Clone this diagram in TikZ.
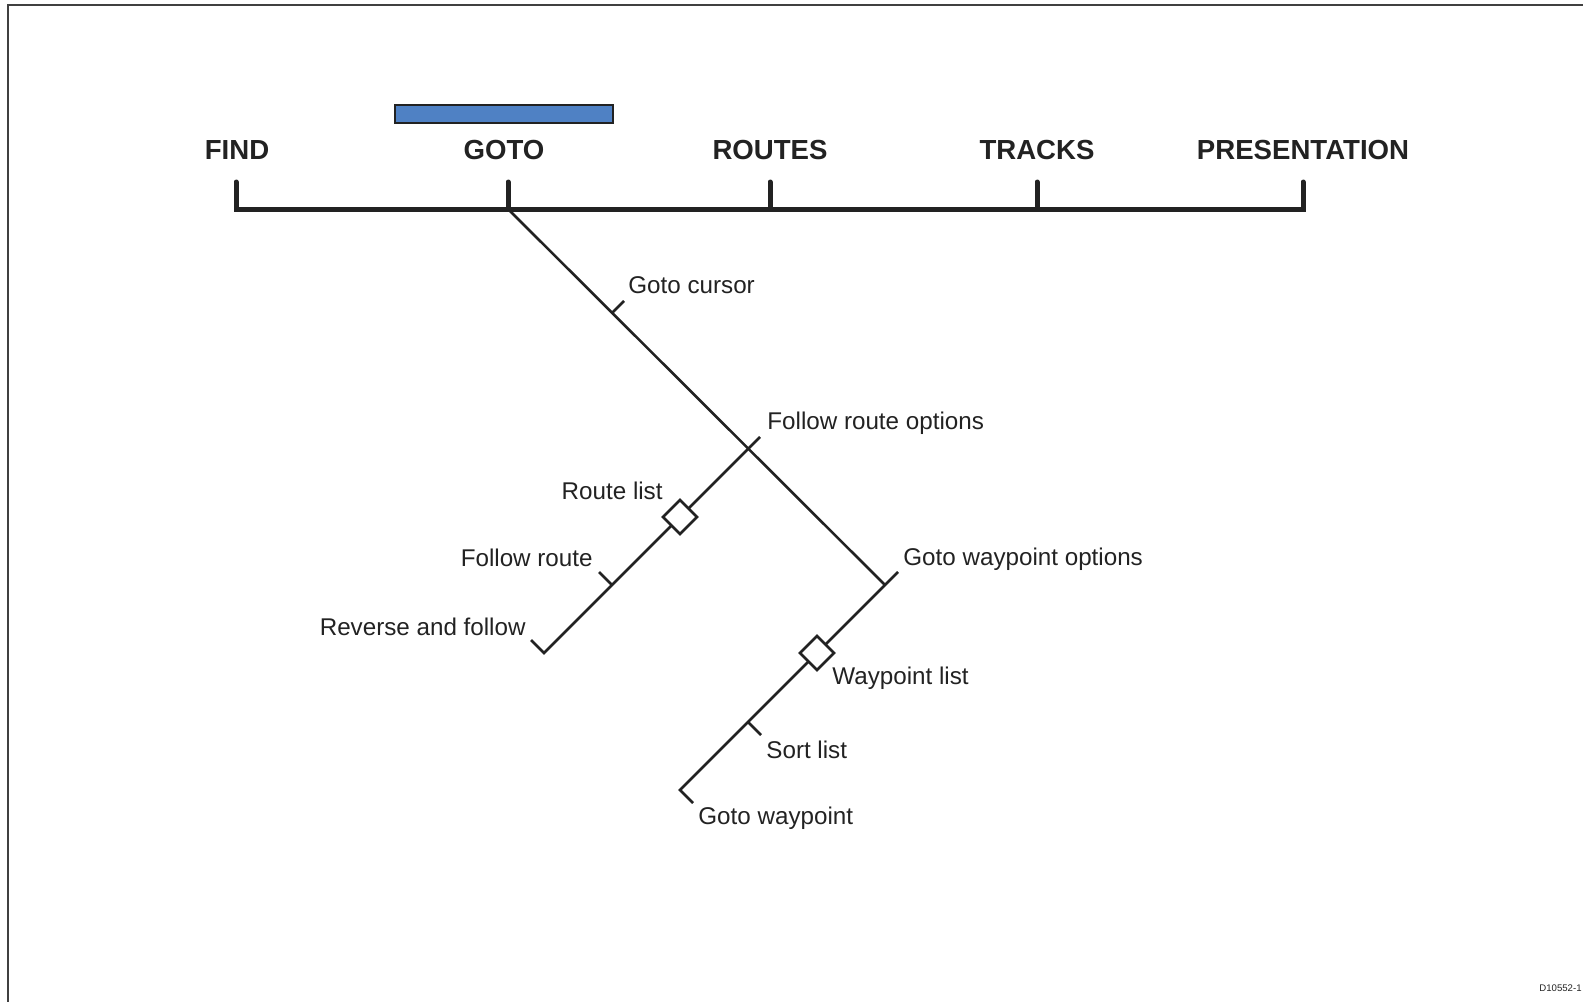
\documentclass[tikz,border=0pt]{standalone}
\usepackage{fontspec}
\setmainfont{Liberation Sans}
\usetikzlibrary{positioning}
\definecolor{barblue}{HTML}{4F81C4}
\definecolor{ink}{HTML}{222222}
\tikzset{
  menu/.style={font=\fontsize{13.8}{16}\selectfont\bfseries,text=ink,inner sep=0pt},
  opt/.style={font=\fontsize{12.1}{14}\selectfont,text=ink,inner sep=0pt},
  menubar/.style={line width=2.5pt,draw=ink,line cap=round},
  branch/.style={line width=1.3pt,draw=ink},
  listbox/.style={draw=ink,line width=1.3pt,fill=white,rotate=45,minimum size=12pt,inner sep=0pt},
}

\begin{document}
\begin{tikzpicture}[x=0.5pt,y=-0.5pt]
\useasboundingbox (0,0) rectangle (1583,1002);
% frame
\draw[line width=1pt,black!75] (1583,5) -- (8,5) -- (8,1002);

% menu bar
\node[menu] (find) at (237,150) {FIND};
\node[menu] (goto) at (504,150) {GOTO};
\node[menu] (routes) at (770,150) {ROUTES};
\node[menu] (tracks) at (1037,150) {TRACKS};
\node[menu] (pres) at (1303,150) {PRESENTATION};
\node[draw=ink,line width=0.6pt,fill=barblue,minimum width=109pt,minimum height=9pt,inner sep=0pt] (sel) at (504,114) {};
\coordinate (findtop) at (236,182);
\coordinate (gototop) at (508,182);
\coordinate (routestop) at (770,182);
\coordinate (trackstop) at (1037,182);
\coordinate (prestop) at (1303,182);
\coordinate (findbase) at (236,209);
\coordinate (gotobase) at (508,209);
\coordinate (routesbase) at (770,209);
\coordinate (tracksbase) at (1037,209);
\coordinate (presbase) at (1303,209);
\draw[menubar] (findtop) -- (findbase) -- (presbase) -- (prestop);
\draw[menubar] (gototop) -- (gotobase);
\draw[menubar] (routestop) -- (routesbase);
\draw[menubar] (trackstop) -- (tracksbase);

% goto menu
\coordinate (frmopt) at (748,449);
\coordinate (wpopt) at (885,585);
\draw[branch] (gotobase) -- (wpopt);
\coordinate (cursor) at (612,313);
\coordinate (cursortip) at (624,301);
\draw[branch] (cursor) -- (cursortip);
\node[opt,anchor=west] (cursorlbl) at (628,285) {Goto cursor};

% follow route options
\coordinate (frmtip) at (760,437);
\coordinate (rtend) at (544,653);
\coordinate (rthook) at (531,640);
\coordinate (follow) at (612,585);
\coordinate (followtip) at (599,572);
\draw[branch] (frmtip) -- (frmopt) -- (rtend) -- (rthook);
\draw[branch] (follow) -- (followtip);
\node[listbox] (rtlist) at (680,517) {};
\node[opt,anchor=west] (frmlbl) at (767,423) {Follow route options};
\node[opt,anchor=east] (rtlistlbl) at (663,491) {Route list};
\node[opt,anchor=east] (followlbl) at (593,558) {Follow route};
\node[opt,anchor=east] (reverselbl) at (526,627) {Reverse and follow};

% goto waypoint options
\coordinate (wptip) at (898,572);
\coordinate (wpend) at (680,790);
\coordinate (wphook) at (693,803);
\coordinate (sort) at (748,722);
\coordinate (sorttip) at (761,735);
\draw[branch] (wptip) -- (wpopt) -- (wpend) -- (wphook);
\draw[branch] (sort) -- (sorttip);
\node[listbox] (wplist) at (817,653) {};
\node[opt,anchor=west] (wplbl) at (903,559) {Goto waypoint options};
\node[opt,anchor=west] (wplistlbl) at (832,678) {Waypoint list};
\node[opt,anchor=west] (sortlbl) at (766,750) {Sort list};
\node[opt,anchor=west] (gotowplbl) at (698,818) {Goto waypoint};

\node[font=\fontsize{4.8}{6}\selectfont,text=ink,inner sep=0pt,anchor=east] (ref) at (1582,988) {D10552-1};
\end{tikzpicture}
\end{document}
